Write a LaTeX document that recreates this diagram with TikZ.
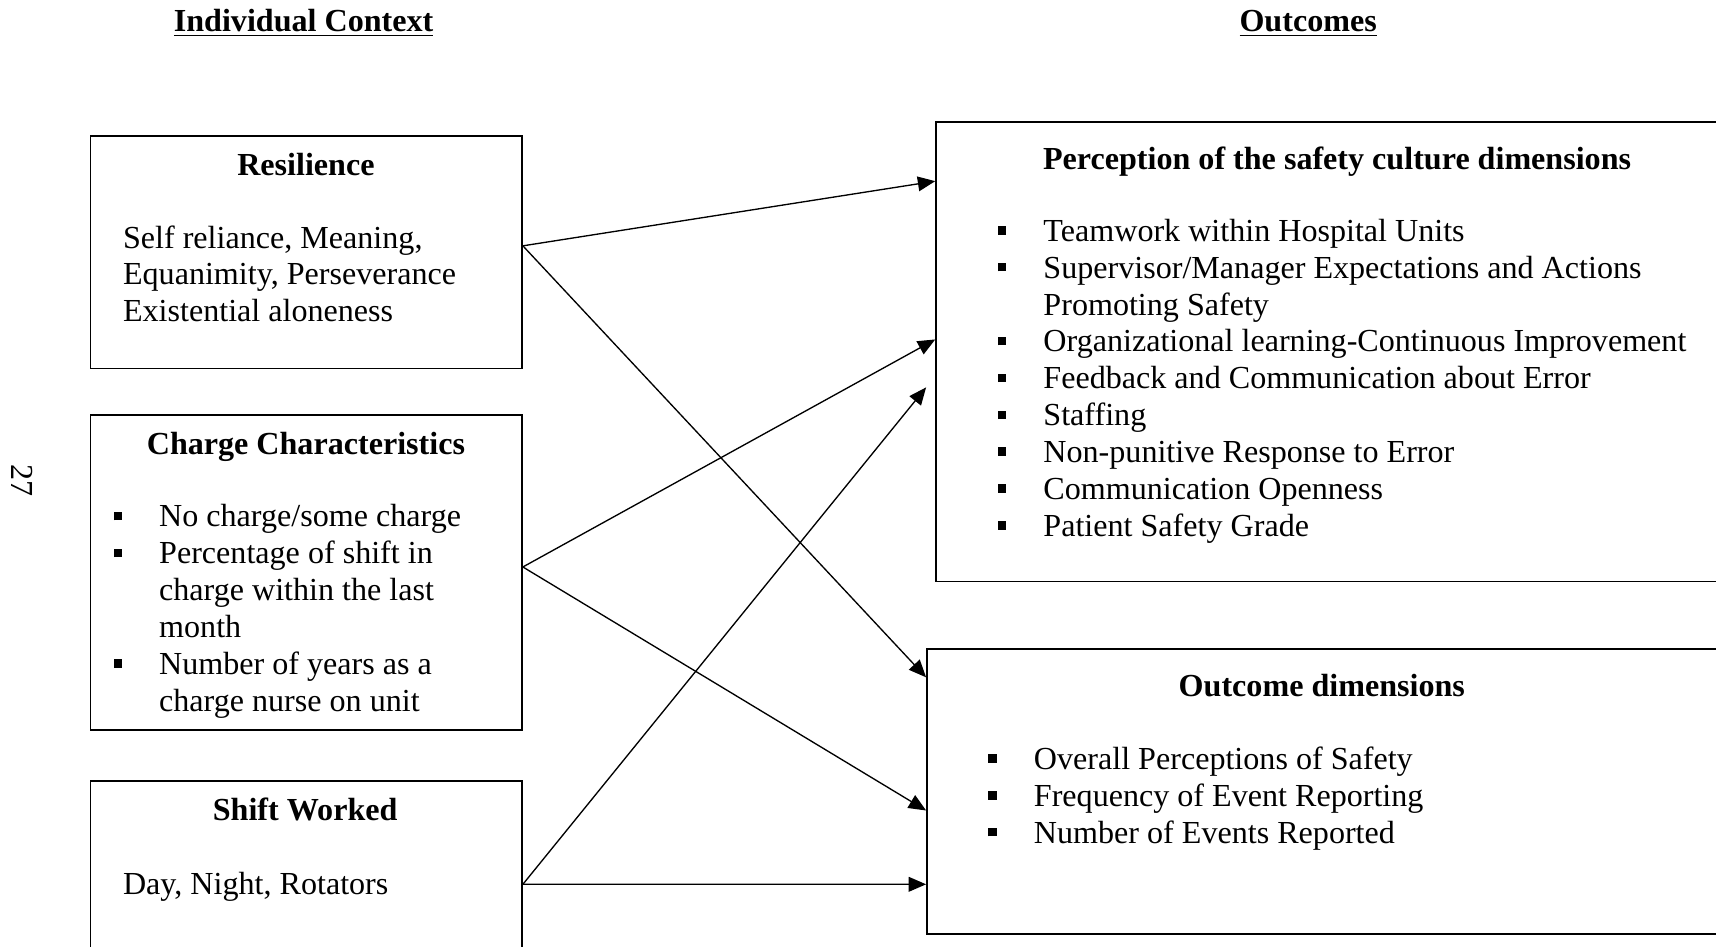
\documentclass[tikz,border=0pt]{standalone}
\usepackage{fontspec}
\setmainfont{Liberation Serif}
\usetikzlibrary{arrows.meta,positioning}
\newcommand{\bulsq}{\makebox[0.6cm][l]{\rule[2.5pt]{3.2pt}{3.2pt}}}
\newcommand{\bulind}{\hspace*{0.6cm}}

\begin{document}
\begin{tikzpicture}[
     >=Triangle,
     box/.style={draw,line width=0.6pt,anchor=north west,inner sep=0pt},
     hd/.style={anchor=base,inner sep=0pt,font=\fontsize{12}{13.8}\selectfont\bfseries},
     txt/.style={anchor=base west,align=left,inner sep=0pt,font=\fontsize{12}{13.8}\selectfont},
     edg/.style={line width=0.5pt,-{Triangle[length=6.5pt,width=5.5pt]}}]
    \useasboundingbox (0,0) rectangle (22.55,-12.44);
    \node[hd] (ctx)  at (3.99,-0.417)  {\underline{Individual Context}};
    \node[hd] (outc) at (17.19,-0.417) {\underline{Outcomes}};
    \node[rotate=-90,inner sep=0pt,font=\fontsize{12}{13.8}\selectfont] (pg) at (0.29,-6.32) {27};
    \node[box,minimum width=5.67cm,minimum height=3.05cm]  (res)  at (1.18,-1.78)  {};
    \node[box,minimum width=5.67cm,minimum height=4.14cm]  (chg)  at (1.18,-5.44)  {};
    \node[box,minimum width=5.67cm,minimum height=2.72cm]  (shf)  at (1.18,-10.25) {};
    \node[box,minimum width=10.36cm,minimum height=6.04cm] (perc) at (12.29,-1.59) {};
    \node[box,minimum width=10.48cm,minimum height=3.74cm] (outd) at (12.17,-8.52) {};
    \node[hd]  (res-t) at (4.02,-2.31) {Resilience};
    \node[txt] (res-b) at (1.61,-4.23) {Self reliance, Meaning,\\Equanimity, Perseverance\\Existential aloneness};
    \node[hd]  (chg-t) at (4.02,-5.97) {Charge Characteristics};
    \node[txt] (chg-b) at (1.485,-9.35) {\bulsq No charge/some charge\\\bulsq Percentage of shift in\\\bulind charge within the last\\\bulind month\\\bulsq Number of years as a\\\bulind charge nurse on unit};
    \node[hd]  (shf-t) at (4.01,-10.78) {Shift Worked};
    \node[txt] (shf-b) at (1.61,-11.76) {Day, Night, Rotators};
    \node[hd,anchor=base west] (perc-t) at (13.70,-2.23) {Perception of the safety culture dimensions};
    \node[txt] (perc-b) at (13.105,-7.05) {\bulsq Teamwork within Hospital Units\\\bulsq Supervisor/Manager Expectations and Actions\\\bulind Promoting Safety\\\bulsq Organizational learning-Continuous Improvement\\\bulsq Feedback and Communication about Error\\\bulsq Staffing\\\bulsq Non-punitive Response to Error\\\bulsq Communication Openness\\\bulsq Patient Safety Grade};
    \node[hd]  (outd-t) at (17.37,-9.15) {Outcome dimensions};
    \node[txt] (outd-b) at (12.98,-11.08) {\bulsq Overall Perceptions of Safety\\\bulsq Frequency of Event Reporting\\\bulsq Number of Events Reported};
    \draw[edg] ([yshift=0.085cm]res.east) -- ([yshift=2.24cm]perc.west);
    \draw[edg] ([yshift=0.085cm]res.east) -- ([yshift=1.50cm]outd.west);
    \draw[edg] ([yshift=0.07cm]chg.east)  -- ([yshift=0.16cm]perc.west);
    \draw[edg] ([yshift=0.07cm]chg.east)  -- ([yshift=-0.25cm]outd.west);
    \draw[edg] (shf.east) -- ([xshift=-0.12cm,yshift=-0.47cm]perc.west);
    \draw[edg] (shf.east) -- ([yshift=-1.22cm]outd.west);
  \end{tikzpicture}
\end{document}
